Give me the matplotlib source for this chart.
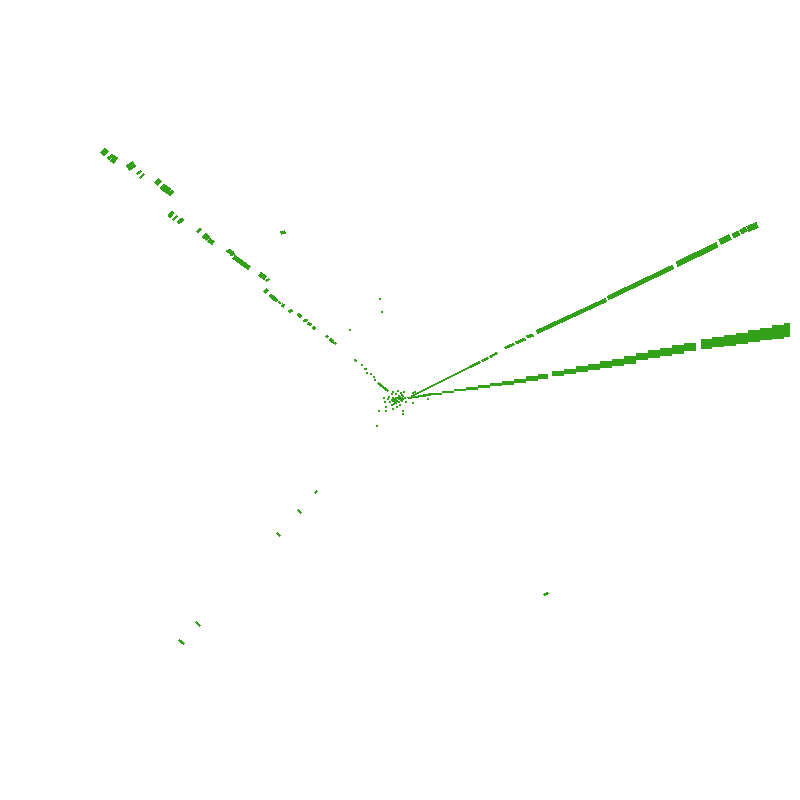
import numpy as np
import matplotlib
matplotlib.use("Agg")
import matplotlib.pyplot as plt

GREEN = "#33a01a"

# left arm dashes: x0, y0, x1, y1, width in px
left_x0 = [101, 103, 108, 112, 128, 137, 140, 156, 161, 163, 166, 169, 169, 173, 178, 197, 203, 206, 209,
           227, 231, 234, 260, 266, 265, 270, 279, 282, 290, 298, 304, 308, 313, 326, 330, 333]
left_y0 = [153, 155, 159, 162, 168, 174, 178, 184, 189, 191, 193, 195, 217, 220, 223, 232, 238, 240, 240,
           252, 252, 257, 274, 281, 290, 295, 303, 305, 310, 314, 320, 323, 327, 336, 339, 342]
left_x1 = [106, 108, 113, 116, 134, 141, 144, 160, 165, 167, 170, 173, 173, 177, 183, 201, 207, 209, 213,
           231, 233, 249, 265, 269, 267, 277, 280, 284, 291, 301, 307, 311, 315, 328, 333, 336]
left_y1 = [149, 151, 155, 157, 164, 171, 174, 180, 185, 186, 188, 191, 212, 216, 219, 229, 234, 236, 243,
           250, 255, 268, 278, 279, 292, 301, 302, 306, 312, 317, 321, 325, 329, 337, 342, 344]
left_w = [1.3, 1.3, 2, 3.5, 5, 1, 1.3, 3.5, 1.8, 1.8, 2.5, 2.5, 2.5, 1.2, 2.5, 1.5, 1.5, 1.5, 3.5,
          2, 3.5, 3.5, 3.5, 1, 3, 2.5, 1.8, 2.5, 3, 2.5, 2, 2, 2, 1, 2, 1]

# short stray dashes and the ones running down to the centre
stray_x0 = [281, 196, 179, 277, 298, 315, 544, 378, 392, 398, 408, 422]
stray_y0 = [233, 622, 640, 533, 510, 493, 595, 383, 399, 397, 398, 396]
stray_x1 = [285, 200, 184, 280, 301, 317, 548, 388, 397, 403, 422, 432]
stray_y1 = [232, 626, 644, 536, 513, 491, 593, 391, 402, 400, 396, 394]
stray_w = [2.2, 1.2, 1.2, 1.2, 1.2, 1, 1.2, 1, 3, 3, 1, 1.2]

# single dots around the centre
dots_x = [355, 356, 362, 365, 366, 367, 371, 374, 375, 350, 380, 382, 377, 384, 385, 386, 389, 388, 390,
          393, 392, 396, 396, 394, 392, 393, 399, 402, 403, 405, 406, 403, 413, 428, 413, 415, 403, 386, 379,
          392, 395, 398, 401, 404, 397, 400]
dots_y = [360, 361, 365, 369, 369, 373, 374, 377, 380, 330, 299, 312, 426, 398, 402, 407, 397, 399, 402,
          392, 400, 394, 398, 404, 405, 409, 402, 395, 396, 398, 402, 411, 403, 399, 393, 392, 414, 411, 411,
          394, 403, 391, 393, 392, 407, 405]

# upper band, dashes along the ray
upper_x0 = [412, 430, 450, 470, 482, 490, 505, 516, 527, 537, 608, 677, 720, 733, 741, 748]
upper_y0 = [396, 387, 377, 367, 361, 357, 348, 343, 337, 332, 298, 264, 242, 236, 232, 229]
upper_x1 = [430, 450, 470, 480, 488, 497, 514, 525, 533, 606, 673, 717, 730, 739, 746, 757]
upper_y1 = [387, 377, 367, 362, 358, 353, 344, 339, 335, 300, 267, 245, 237, 233, 229, 225]
upper_w = [0.8, 0.8, 0.8, 1, 1, 1, 1.5, 2, 2, 3, 3.5, 4.5, 5, 4, 4, 5]

# lower band outline in small tiers, nan marks the white gaps
lower_x = [430, 442, 454, 466, 478, 490, 502, 514, 526, 538, 548, 550, 552, 564, 576, 588, 600, 612, 624, 636,
           648, 660, 672, 684, 696, 699, 701, 712, 724, 736, 748, 760, 772, 784, 790]
lower_top = [392.5, 390.5, 389, 387, 385, 383, 381, 378.5, 376, 373.5, 371, np.nan, 371, 368.5, 366, 363.5, 361,
             358.5, 356, 353, 350, 347.5, 345, 342.5, 340, np.nan, 339, 337, 334.5, 332.5, 330, 327.5, 325, 322.5, 321]
lower_bot = [394.5, 392.5, 391, 389.5, 388, 386, 384.5, 382.5, 380.5, 378.5, 377, np.nan, 376, 374, 372, 370, 367.5,
             366, 364, 360, 358, 355.5, 353.5, 351, 349, np.nan, 349, 347, 345.5, 343.5, 341.5, 340, 338.5, 336.5, 336]


def draw_dashes(ax, x0, y0, x1, y1, w):
    for a, b, c, d, width in zip(x0, y0, x1, y1, w):
        ax.plot([a, c], [b, d], color=GREEN, lw=width * 0.72, solid_capstyle="butt", antialiased=False)


fig = plt.figure(figsize=(8, 8), dpi=100)
ax = fig.add_axes([0, 0, 1, 1])
ax.set_xlim(0, 800)
ax.set_ylim(800, 0)
ax.axis("off")

draw_dashes(ax, left_x0, left_y0, left_x1, left_y1, left_w)
draw_dashes(ax, stray_x0, stray_y0, stray_x1, stray_y1, stray_w)
draw_dashes(ax, upper_x0, upper_y0, upper_x1, upper_y1, upper_w)

ax.fill_between(lower_x, lower_top, lower_bot, step="post", color=GREEN, lw=0, antialiased=False)
ax.scatter(dots_x, dots_y, s=0.8, marker="s", color=GREEN, linewidths=0, antialiased=False)

fig.savefig("out.png", dpi=100, facecolor="white")
